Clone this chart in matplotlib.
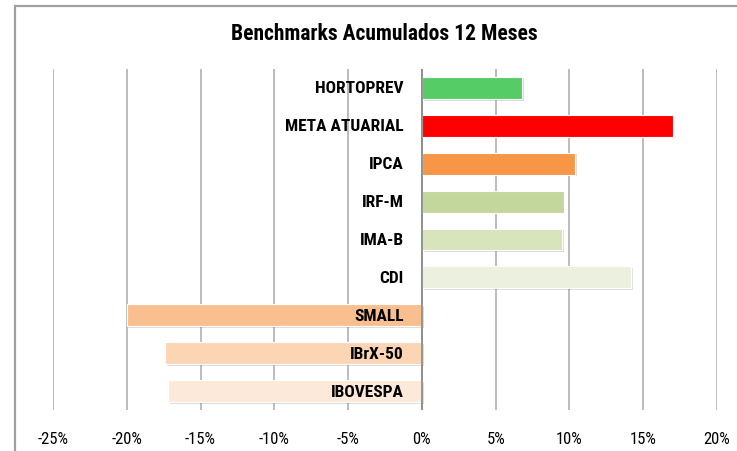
import matplotlib
matplotlib.use("Agg")
import matplotlib.pyplot as plt
import matplotlib.patheffects as pe
from matplotlib.patches import Rectangle
from matplotlib.ticker import FuncFormatter

# dados
categorias = ["HORTOPREV", "META ATUARIAL", "IPCA", "IRF-M", "IMA-B", "CDI",
              "SMALL", "IBrX-50", "IBOVESPA"]
valores = [0.068, 0.170, 0.104, 0.096, 0.095, 0.142, -0.200, -0.174, -0.172]
cores = ["#55cc66", "#ff0000", "#f79646", "#c3d69b", "#d7e4bc", "#ebf1de",
         "#fabf8f", "#fcd5b5", "#fde9d9"]
ticks = [-0.25, -0.20, -0.15, -0.10, -0.05, 0, 0.05, 0.10, 0.15, 0.20]

plt.rcParams['font.family'] = ['Roboto Condensed', 'DejaVu Sans']
plt.rcParams['axes.unicode_minus'] = False

fig = plt.figure(figsize=(7.37, 4.52), dpi=100)
ax = fig.add_axes([53 / 737, 1 - 411 / 452, (717 - 53) / 737, (411 - 70) / 452])

# moldura do gráfico
fig.patches.append(Rectangle((15 / 737, -0.1), 1.2, 1.1 - 7 / 452,
                             transform=fig.transFigure, fill=False,
                             edgecolor="#a0a0a0", linewidth=1.6))

y = list(range(len(categorias)))
bars = ax.barh(y, valores, height=0.58, color=cores, edgecolor="white",
               linewidth=0.8, zorder=3)
for b in bars:
    b.set_path_effects([pe.SimplePatchShadow(offset=(1.2, -1.2), alpha=0.18),
                        pe.Normal()])

for i, nome in enumerate(categorias):
    ax.annotate(nome, (0, i), xytext=(-13, 0), textcoords="offset points",
                ha="right", va="center", fontsize=12.5, fontweight=700,
                zorder=5)

ax.set_xlim(-0.25, 0.20)
ax.set_ylim(len(categorias) - 0.5, -0.5)
ax.set_xticks(ticks)
ax.xaxis.set_major_formatter(FuncFormatter(lambda v, p: f"{v * 100:.0f}%"))
ax.tick_params(axis="x", length=0, pad=15, labelsize=12)
ax.set_yticks([])
ax.grid(axis="x", color="#b0b0b0", linewidth=1.2, zorder=0)
for s in ax.spines.values():
    s.set_visible(False)
ax.axvline(0, color="#8c8c8c", linewidth=1.3, zorder=4)

fig.text(384 / 737, 1 - 34 / 452, "Benchmarks Acumulados 12 Meses",
         ha="center", va="center", fontsize=15.5, fontweight=700)

fig.savefig("out.png", dpi=100)
